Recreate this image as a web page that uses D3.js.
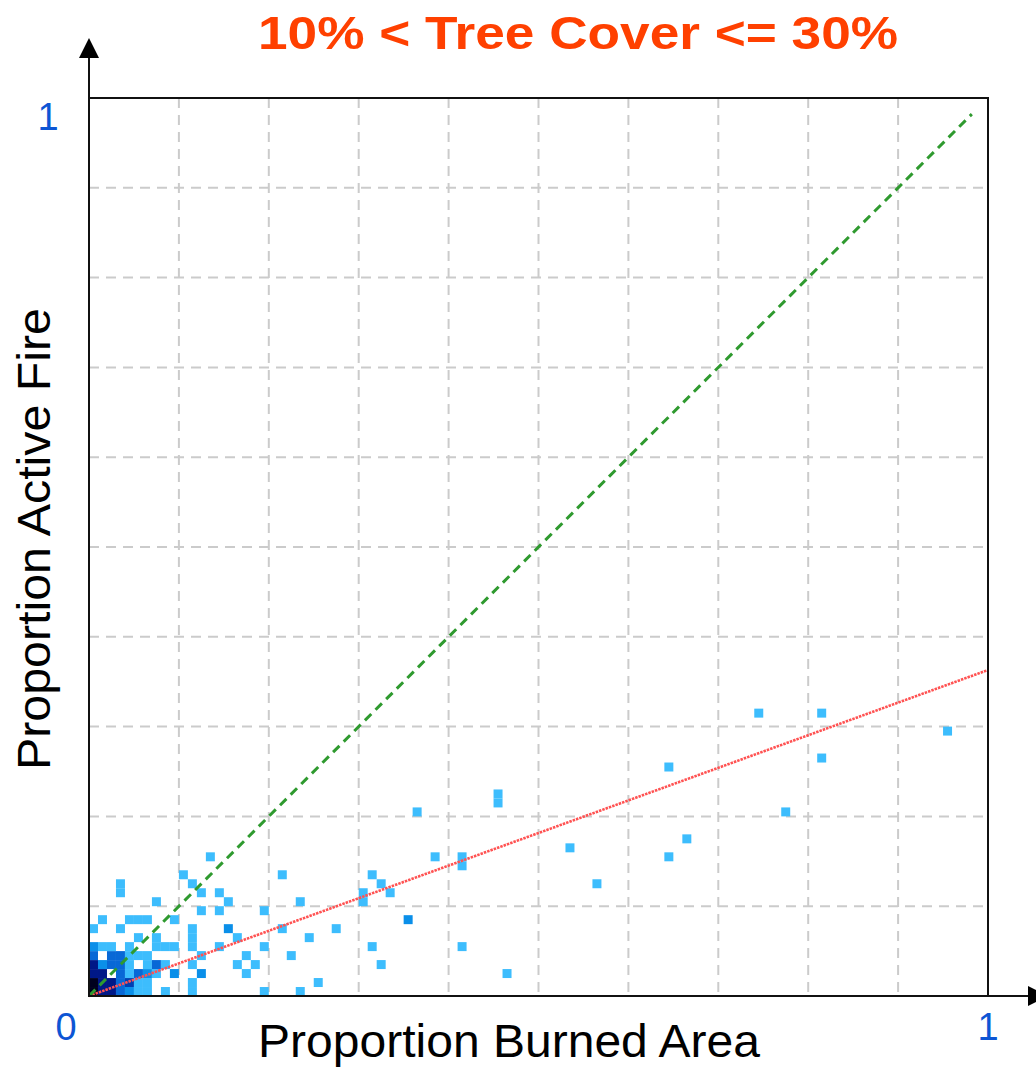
<!DOCTYPE html>
<html>
<head>
<meta charset="utf-8">
<script src="https://cdn.jsdelivr.net/npm/d3@7"></script>
<style>
  html, body { margin: 0; padding: 0; background: #fff; }
  svg { display: block; font-family: "Liberation Sans", Arial, sans-serif; }
</style>
</head>
<body>
<svg id="chart"></svg>
<script>
const width = 1036;
const height = 1067;

// 2D histogram cells: bin start (proportion burned area, proportion active fire) + density level
const binSize = 0.01;
const cellX = [
  0,1,2,3,4,5,6,8,11,19,23,
  0,1,2,3,4,5,6,11,25,
  0,1,3,4,5,6,7,9,12,17,46,
  0,1,2,3,4,6,7,8,11,16,18,32,
  0,2,3,4,5,6,12,17,22,
  0,1,2,4,7,8,9,11,14,19,31,41,
  5,7,11,16,24,
  0,3,11,15,21,27,
  1,4,5,6,9,35,
  12,14,19,
  7,15,23,30,
  3,12,14,30,33,
  3,11,32,56,
  10,21,31,
  41,
  13,38,41,64,
  53,
  66,
  36,77,
  45,
  45,
  64,
  81,
  95,
  74,81
];
const cellY = [
  0,0,0,0,0,0,0,0,0,0,0,
  1,1,1,1,1,1,1,1,1,
  2,2,2,2,2,2,2,2,2,2,2,
  3,3,3,3,3,3,3,3,3,3,3,3,
  4,4,4,4,4,4,4,4,4,
  5,5,5,5,5,5,5,5,5,5,5,5,
  6,6,6,6,6,
  7,7,7,7,7,7,
  8,8,8,8,8,8,
  9,9,9,
  10,10,10,10,
  11,11,11,11,11,
  12,12,12,12,
  13,13,13,
  14,
  15,15,15,15,
  16,
  17,
  20,20,
  21,
  22,
  25,
  26,
  29,
  31,31
];
const cellLevel = [
  6,5,5,3,2,1,1,1,1,1,1,
  6,5,5,3,4,1,1,1,1,
  5,5,3,1,3,2,1,2,2,1,1,
  5,2,3,3,1,1,3,1,1,1,1,1,
  3,3,3,1,1,1,1,1,1,
  2,1,1,1,1,1,1,1,1,1,1,1,
  1,1,1,1,1,
  1,1,1,2,1,1,
  1,1,1,1,1,2,
  1,1,1,
  1,1,1,1,
  1,1,1,1,1,
  1,1,1,1,
  1,1,1,
  1,
  1,1,1,1,
  1,
  1,
  1,1,
  1,
  1,
  1,
  1,
  1,
  1,1
];
const levelColors = ["#3dbdfd", "#0a8fe9", "#0868d6", "#0040b2", "#001887", "#00001e"];

// fitted line (slope) and 1:1 reference line extent
const fitSlope = 0.363;
const oneToOneEnd = 0.982;

const gridTicks = [0.1, 0.2, 0.3, 0.4, 0.5, 0.6, 0.7, 0.8, 0.9];
const axisLabels = ["0", "1"];

const titleText = "10% < Tree Cover <= 30%";
const xTitle = "Proportion Burned Area";
const yTitle = "Proportion Active Fire";

const cells = cellX.map((c, i) => ({ x: c * binSize, y: cellY[i] * binSize, level: cellLevel[i] }));

const svg = d3.select("#chart")
    .attr("width", width)
    .attr("height", height);

const x = d3.scaleLinear().domain([0, 1]).range([89, 988]);
const y = d3.scaleLinear().domain([0, 1]).range([996, 98]);
const color = d3.scaleOrdinal().domain([1, 2, 3, 4, 5, 6]).range(levelColors);

svg.append("defs").append("clipPath").attr("id", "plotClip")
  .append("rect")
    .attr("x", x(0)).attr("y", y(1))
    .attr("width", x(1) - x(0)).attr("height", y(0) - y(1));

// grid
const grid = svg.append("g")
    .attr("stroke", "#cbcbcb")
    .attr("stroke-width", 2)
    .attr("stroke-dasharray", "10,7");

grid.selectAll("line.v")
  .data(gridTicks)
  .enter().append("line")
    .attr("class", "v")
    .attr("x1", d => x(d)).attr("x2", d => x(d))
    .attr("y1", y(1)).attr("y2", y(0));

grid.selectAll("line.h")
  .data(gridTicks)
  .enter().append("line")
    .attr("class", "h")
    .attr("x1", x(0)).attr("x2", x(1))
    .attr("y1", d => y(d)).attr("y2", d => y(d));

// histogram cells
svg.append("g")
    .attr("clip-path", "url(#plotClip)")
  .selectAll("rect")
  .data(cells)
  .enter().append("rect")
    .attr("x", d => x(d.x))
    .attr("y", d => y(d.y + binSize))
    .attr("width", x(binSize) - x(0))
    .attr("height", y(0) - y(binSize))
    .attr("fill", d => color(d.level));

// fitted line (red) and 1:1 line (green)
svg.append("line")
    .attr("x1", x(0)).attr("y1", y(0))
    .attr("x2", x(1)).attr("y2", y(fitSlope))
    .attr("stroke", "#ff5252")
    .attr("stroke-width", 2.6)
    .attr("stroke-dasharray", "2.5,1");

svg.append("line")
    .attr("x1", x(0)).attr("y1", y(0))
    .attr("x2", x(oneToOneEnd)).attr("y2", y(oneToOneEnd))
    .attr("stroke", "#2f9a2f")
    .attr("stroke-width", 3)
    .attr("stroke-dasharray", "9,6");

// frame
svg.append("rect")
    .attr("x", x(0)).attr("y", y(1))
    .attr("width", x(1) - x(0)).attr("height", y(0) - y(1))
    .attr("fill", "none")
    .attr("stroke", "#111")
    .attr("stroke-width", 2);

// axis arrows
svg.append("line")
    .attr("x1", x(0)).attr("y1", y(0))
    .attr("x2", x(0)).attr("y2", 56)
    .attr("stroke", "#111").attr("stroke-width", 2);
svg.append("path")
    .attr("d", `M${x(0)},38 L${x(0) - 10},58 L${x(0) + 10},58 Z`)
    .attr("fill", "#000");

svg.append("line")
    .attr("x1", x(1)).attr("y1", y(0))
    .attr("x2", 1030).attr("y2", y(0))
    .attr("stroke", "#111").attr("stroke-width", 2);
svg.append("path")
    .attr("d", `M1028,${y(0) - 10} L1048,${y(0)} L1028,${y(0) + 10} Z`)
    .attr("fill", "#000");

// tick labels
const tickColor = "#0d55d4";
svg.append("text")
    .attr("x", 48).attr("y", 130)
    .attr("text-anchor", "middle")
    .attr("font-size", 38)
    .attr("fill", tickColor)
    .text(axisLabels[1]);
svg.append("text")
    .attr("x", 66).attr("y", 1040)
    .attr("text-anchor", "middle")
    .attr("font-size", 38)
    .attr("fill", tickColor)
    .text(axisLabels[0]);
svg.append("text")
    .attr("x", x(1)).attr("y", 1040)
    .attr("text-anchor", "middle")
    .attr("font-size", 38)
    .attr("fill", tickColor)
    .text(axisLabels[1]);

// axis titles
svg.append("text")
    .attr("x", 509).attr("y", 1057)
    .attr("text-anchor", "middle")
    .attr("font-size", 47)
    .attr("textLength", 502)
    .attr("lengthAdjust", "spacingAndGlyphs")
    .attr("fill", "#000")
    .text(xTitle);

svg.append("text")
    .attr("transform", "translate(50,539) rotate(-90)")
    .attr("text-anchor", "middle")
    .attr("font-size", 47)
    .attr("textLength", 462)
    .attr("lengthAdjust", "spacingAndGlyphs")
    .attr("fill", "#000")
    .text(yTitle);

// chart title
svg.append("text")
    .attr("x", 578).attr("y", 49)
    .attr("text-anchor", "middle")
    .attr("font-size", 47)
    .attr("font-weight", "bold")
    .attr("textLength", 640)
    .attr("lengthAdjust", "spacingAndGlyphs")
    .attr("fill", "#ff4000")
    .text(titleText);
</script>
</body>
</html>
